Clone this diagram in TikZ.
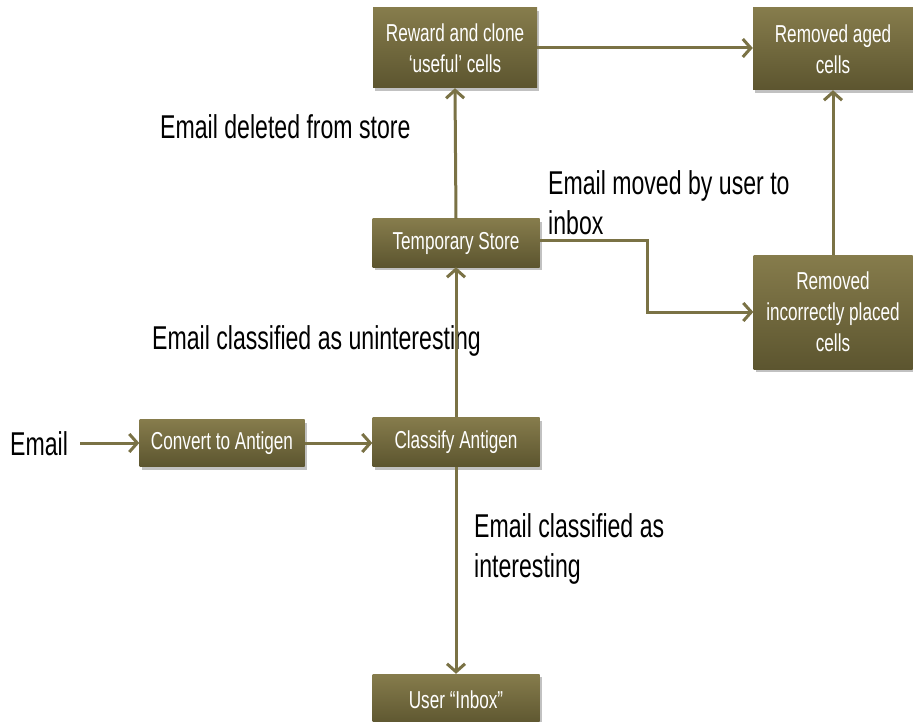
\documentclass[tikz,border=0pt]{standalone}
\usepackage{fontspec}
\setmainfont{Liberation Sans}[FakeStretch=0.7]
\usetikzlibrary{arrows.meta,shadows,positioning}
\definecolor{olivetop}{HTML}{867C4C}
\definecolor{olivebot}{HTML}{5C552F}
\definecolor{olivearrow}{HTML}{7A7245}
\tikzset{
  procbox/.style={rectangle, top color=olivetop, bottom color=olivebot,
    draw=none, text=white, align=center, inner sep=2pt,
    font=\fontsize{24.5}{31}\selectfont,
    drop shadow={shadow xshift=2pt, shadow yshift=-3pt, opacity=0.35, fill=black!70}},
  flow/.style={draw=olivearrow, line width=3pt,
    -{Straight Barb[length=8pt,width=18pt,line width=3pt]}},
  caption/.style={anchor=base west, text=black, align=left, inner sep=0pt,
    font=\fontsize{33}{40}\selectfont}
}
\begin{document}
\begin{tikzpicture}[x=1pt,y=-1pt]
  \useasboundingbox (0,0) rectangle (913,722);

  % process boxes
  \node[procbox, minimum width=164pt, minimum height=80pt] (reward) at (455,48)
    {Reward and clone\\`useful' cells};
  \node[procbox, minimum width=160pt, minimum height=82pt] (aged) at (833,49)
    {Removed aged\\cells};
  \node[procbox, minimum width=167pt, minimum height=48pt] (temp) at (456,243)
    {Temporary Store};
  \node[procbox, minimum width=159pt, minimum height=114pt] (incorrect) at (833,312)
    {Removed\\incorrectly placed\\cells};
  \node[procbox, minimum width=165pt, minimum height=47pt] (convert) at (222,443)
    {Convert to Antigen};
  \node[procbox, minimum width=167pt, minimum height=49pt] (classify) at (456,442)
    {Classify Antigen};
  \node[procbox, minimum width=167pt, minimum height=52pt] (inbox) at (456,700)
    {User \textquotedblleft Inbox\textquotedblright};

  % input and edge captions (base = baseline of the last line)
  \node[caption] (email) at (10,455) {Email};
  \node[caption] (deleted) at (160,139) {Email deleted from store};
  \node[caption] (moved) at (548,235) {Email moved by user to\\inbox};
  \node[caption] (uninteresting) at (152,349) {Email classified as uninteresting};
  \node[caption] (interesting) at (474,577) {Email classified as\\interesting};

  % bend point of the path to the incorrectly placed cells
  \coordinate (bend) at (647,0);

  % connectors
  \draw[flow, shorten <=12pt] (email.east |- convert.west) -- (convert.west);
  \draw[flow] (convert.east) -- (classify.west |- convert.east);
  \draw[flow] (classify.north) -- (temp.south);
  \draw[flow] (temp.north) -- (reward.south);
  \draw[flow] (reward.east) -- (aged.west |- reward.east);
  \draw[flow] (incorrect.north) -- (aged.south);
  \draw[flow] ([yshift=2pt]temp.east) -- ([yshift=2pt]temp.east -| bend) |- (incorrect.west);
  \draw[flow] (classify.south) -- (inbox.north);
\end{tikzpicture}
\end{document}
